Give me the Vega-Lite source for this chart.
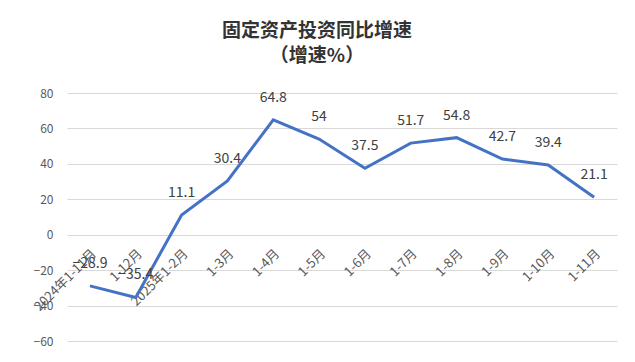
{
  "$schema": "https://vega.github.io/schema/vega-lite/v6.json",
  "autosize": "none",
  "width": 550,
  "height": 248,
  "padding": {"left": 67, "top": 93, "right": 18, "bottom": 21},
  "background": "white",
  "config": {"view": {"stroke": null}, "font": "Noto Sans CJK SC"},
  "title": {
    "text": ["固定资产投资同比增速", "（增速%）"],
    "anchor": "middle",
    "fontSize": 19,
    "fontWeight": "bold",
    "color": "#333333",
    "lineHeight": 25,
    "offset": 21,
    "dx": -25,
    "font": "Noto Sans CJK SC"
  },
  "data": {
    "values": [
      {"period": "2024年1-11月", "value": -28.9},
      {"period": "1-12月", "value": -35.4},
      {"period": "2025年1-2月", "value": 11.1},
      {"period": "1-3月", "value": 30.4},
      {"period": "1-4月", "value": 64.8},
      {"period": "1-5月", "value": 54},
      {"period": "1-6月", "value": 37.5},
      {"period": "1-7月", "value": 51.7},
      {"period": "1-8月", "value": 54.8},
      {"period": "1-9月", "value": 42.7},
      {"period": "1-10月", "value": 39.4},
      {"period": "1-11月", "value": 21.1}
    ]
  },
  "encoding": {
    "x": {
      "field": "period",
      "type": "nominal",
      "sort": null,
      "scale": {"type": "band", "paddingInner": 0, "paddingOuter": 0},
      "axis": {
        "title": null,
        "offset": -106,
        "labelAngle": -45,
        "labelFontSize": 13,
        "labelColor": "#595959",
        "domain": false,
        "ticks": false,
        "labelPadding": 12,
        "labelFont": "Noto Sans CJK SC"
      }
    },
    "y": {
      "field": "value",
      "type": "quantitative",
      "scale": {"domain": [-60, 80], "nice": false},
      "axis": {
        "title": null,
        "values": [-60, -40, -20, 0, 20, 40, 60, 80],
        "domain": false,
        "ticks": false,
        "labelPadding": 14,
        "labelFontSize": 12,
        "labelColor": "#595959",
        "gridColor": "#d9d9d9",
        "gridWidth": 1,
        "labelFont": "Noto Sans CJK SC"
      }
    }
  },
  "layer": [
    {
      "mark": {"type": "line", "color": "#4472C4", "strokeWidth": 3}
    },
    {
      "mark": {"type": "text", "dy": -22, "fontSize": 14, "color": "#404040", "font": "Noto Sans CJK SC"},
      "encoding": {"text": {"field": "value", "type": "quantitative"}}
    }
  ]
}
